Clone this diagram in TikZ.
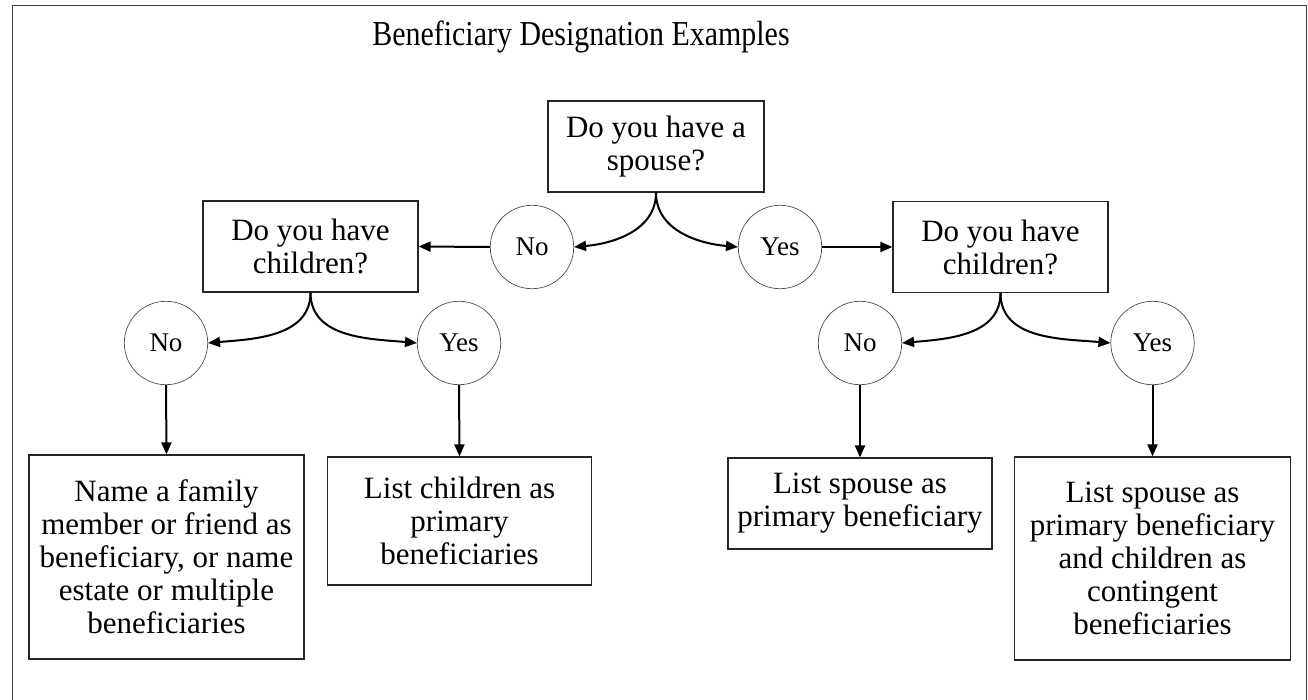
\documentclass[tikz,border=0pt]{standalone}
\usepackage{fontspec}
\setmainfont{Liberation Serif}
\usetikzlibrary{arrows.meta}
\begin{document}
\begin{tikzpicture}[x=1pt,y=-1pt,
  qbox/.style={draw=black!85,line width=1.2pt,rectangle,align=center,inner sep=0pt,
    font=\fontsize{31}{33}\selectfont},
  ans/.style={draw=black!70,line width=0.7pt,circle,minimum size=83.4pt,inner sep=0pt,
    font=\fontsize{27}{29}\selectfont},
  arr/.style={line width=2pt,-{Triangle[length=12pt,width=10pt]}}]
\useasboundingbox (0,0) rectangle (1308,700);
\draw[black!75,line width=1.1pt] (12.5,700) -- (12.5,5.5) -- (1306.5,5.5) -- (1306.5,700);
\node (title) at (581,37) {\fontsize{35}{38}\selectfont\scalebox{0.855}[1]{Beneficiary Designation Examples}};
% questions
\node[qbox,minimum width=216pt,minimum height=91pt] (q0) at (656,146.5) {Do you have a\\spouse?};
\node[qbox,minimum width=215pt,minimum height=91pt] (ql) at (310.5,246.5) {Do you have\\children?};
\node[qbox,minimum width=215pt,minimum height=91pt] (qr) at (1000.5,247) {Do you have\\children?};
% answers
\node[ans] (n0) at (532,247) {No};
\node[ans] (y0) at (780,247) {Yes};
\node[ans] (nl) at (166,343) {No};
\node[ans] (yl) at (459,343) {Yes};
\node[ans] (nr) at (860,343) {No};
\node[ans] (yr) at (1152.5,343) {Yes};
% results
\node[qbox,minimum width=275pt,minimum height=204pt] (r1) at (166.5,557) {Name a family\\member or friend as\\beneficiary, or name\\estate or multiple\\beneficiaries};
\node[qbox,minimum width=264pt,minimum height=128pt] (r2) at (459.5,521) {List children as\\primary\\beneficiaries};
\node[qbox,minimum width=264pt,minimum height=91pt] (r3) at (860,503.5) {List spouse as\\primary beneficiary};
\node[qbox,minimum width=276pt,minimum height=203pt] (r4) at (1152.5,558.5) {List spouse as\\primary beneficiary\\and children as\\contingent\\beneficiaries};
% connectors
\draw[arr] (q0.south) to[out=-90,in=5] (n0.east);
\draw[arr] (q0.south) to[out=-90,in=175] (y0.west);
\draw[arr] (n0.west) -- (ql.east);
\draw[arr] (y0.east) -- (qr.west);
\draw[arr] (ql.south) to[out=-90,in=5] (nl.east);
\draw[arr] (ql.south) to[out=-90,in=175] (yl.west);
\draw[arr] (qr.south) to[out=-90,in=5] (nr.east);
\draw[arr] (qr.south) to[out=-90,in=175] (yr.west);
\draw[arr] (nl.south) -- (r1.north);
\draw[arr] (yl.south) -- (r2.north);
\draw[arr] (nr.south) -- (r3.north);
\draw[arr] (yr.south) -- (r4.north);
\end{tikzpicture}
\end{document}
